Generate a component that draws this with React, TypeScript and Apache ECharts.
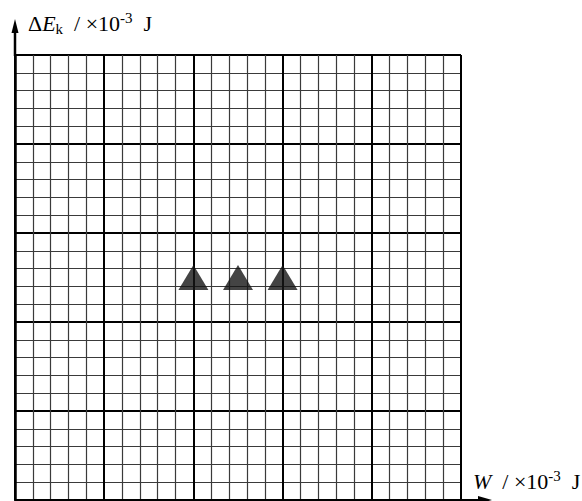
import React, { useEffect, useRef } from "react";
import * as echarts from "echarts";

// Data (W in 10^-3 J, ΔEk in 10^-3 J)
const wValues = [20, 25, 30];
const ekValues = [25, 25, 25];
const axisMin = 0;
const axisMax = 50;
const majorInterval = 10;
const minorSplit = 5;
const yLabelText = "{n|Δ}{i|E}{sub|k}{n|\u2002/ ×10}{sup|-3}{n|\u2002J}";
const xLabelText = "{i|W}{n|\u2002/ ×10}{sup|-3}{n|\u2002J}";

export default function App() {
  const ref = useRef<HTMLDivElement>(null);
  useEffect(() => {
    if (!ref.current) return;
    const chart = echarts.init(ref.current, null, { renderer: "svg" });
    const font = "'Liberation Serif', 'DejaVu Serif', serif";
    const ink = "#000";
    const rich: any = {
      n: { fontFamily: font, fontSize: 22, color: ink, lineHeight: 26 },
      i: { fontFamily: font, fontSize: 22, fontStyle: "italic", color: ink, lineHeight: 26 },
      sub: { fontFamily: font, fontSize: 15, color: ink, verticalAlign: "bottom", lineHeight: 15 },
      sup: { fontFamily: font, fontSize: 15, color: ink, verticalAlign: "top", lineHeight: 20 },
    };
    const axisCommon = {
      type: "value" as const,
      min: axisMin,
      max: axisMax,
      interval: majorInterval,
      axisTick: { show: false },
      axisLabel: { show: false },
      splitLine: { show: true, lineStyle: { color: "#000", width: 2 } },
      minorTick: { show: false, splitNumber: minorSplit },
      minorSplitLine: { show: true, lineStyle: { color: "#3a3a3a", width: 1.2 } },
    };
    chart.setOption({
      animation: false,
      backgroundColor: "#fff",
      grid: { left: 15, top: 55, width: 446, height: 445, containLabel: false, outerBoundsMode: "none" },
      xAxis: {
        ...axisCommon,
        axisLine: { show: true, onZero: false, lineStyle: { color: ink, width: 2 } },
      },
      yAxis: {
        ...axisCommon,
        axisLine: { show: true, onZero: false, lineStyle: { color: ink, width: 2.5 } },
      },
      series: [
        {
          type: "scatter",
          data: wValues.map((w, i) => [w, ekValues[i]]),
          symbol: "triangle",
          symbolSize: [30, 25],
          itemStyle: { color: "#151515" },
          z: 5,
        },
      ],
      graphic: [
        { type: "line", shape: { x1: 15, y1: 56, x2: 15, y2: 28 }, style: { stroke: ink, lineWidth: 2.5 } },
        { type: "polygon", shape: { points: [[15, 19], [11.5, 33], [18.5, 33]] }, style: { fill: ink } },
        { type: "line", shape: { x1: 461, y1: 500, x2: 480, y2: 500 }, style: { stroke: ink, lineWidth: 2 } },
        { type: "polygon", shape: { points: [[492, 500], [478, 496], [478, 504]] }, style: { fill: ink } },
        {
          type: "text",
          x: 28,
          y: 10,
          style: { text: yLabelText, rich, align: "left", verticalAlign: "top" },
        },
        {
          type: "text",
          x: 473,
          y: 468,
          style: { text: xLabelText, rich, align: "left", verticalAlign: "top" },
        },
      ],
    });
    return () => chart.dispose();
  }, []);
  return (
    <div
      ref={ref}
      style={{ position: "absolute", left: 0, top: 0, width: 582, height: 501, background: "#fff" }}
    />
  );
}
